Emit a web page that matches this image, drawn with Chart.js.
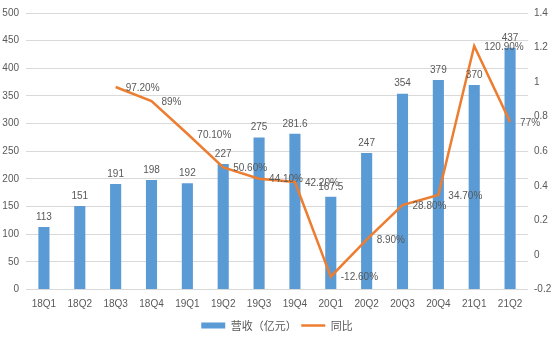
<!DOCTYPE html>
<html>
<head>
<meta charset="utf-8">
<script src="https://cdn.jsdelivr.net/npm/chart.js@4/dist/chart.umd.min.js"></script>
<style>
  html, body { margin: 0; padding: 0; background: #fff; }
  #wrap { width: 554px; height: 341px; }
</style>
</head>
<body>
<div id="wrap"><canvas id="c" width="554" height="341"></canvas></div>
<script>
// quarters, revenue (亿元) and year-on-year growth
const quarters = ["18Q1", "18Q2", "18Q3", "18Q4", "19Q1", "19Q2", "19Q3", "19Q4",
                  "20Q1", "20Q2", "20Q3", "20Q4", "21Q1", "21Q2"];
const revenue = [113, 151, 191, 198, 192, 227, 275, 281.6, 167.5, 247, 354, 379, 370, 437];
const growth = [null, null, 0.972, 0.89, 0.701, 0.506, 0.441, 0.422,
                -0.126, 0.089, 0.288, 0.347, 1.209, 0.77];

const grey = "#595959";
const tickFont = { family: "Liberation Sans", size: 10 };

function pct(v) {
  const p = Math.round(v * 10000) / 100;
  return (Number.isInteger(p) ? p.toString() : p.toFixed(2)) + "%";
}

// draws the numbers next to bars and line points
const valueLabels = {
  id: "valueLabels",
  afterDatasetsDraw(chart) {
    const ctx = chart.ctx;
    ctx.save();
    ctx.font = '10px "Liberation Sans"';
    ctx.fillStyle = grey;
    chart.getDatasetMeta(0).data.forEach((bar, i) => {
      ctx.textAlign = "center";
      ctx.textBaseline = "bottom";
      ctx.fillText(revenue[i], bar.x, bar.y - 5);
    });
    chart.getDatasetMeta(1).data.forEach((pt, i) => {
      if (growth[i] == null) return;
      ctx.textAlign = "left";
      ctx.textBaseline = "middle";
      ctx.fillText(pct(growth[i]), pt.x + 10, pt.y + 1);
    });
    ctx.restore();
  }
};

new Chart(document.getElementById("c"), {
  data: {
    labels: quarters,
    datasets: [
      {
        type: "bar",
        label: "营收（亿元）",
        data: revenue,
        backgroundColor: "#5B9BD5",
        yAxisID: "y",
        barPercentage: 0.31,
        categoryPercentage: 1,
        pointStyle: "rect",
        order: 2
      },
      {
        type: "line",
        label: "同比",
        data: growth,
        borderColor: "#ED7D31",
        backgroundColor: "#ED7D31",
        borderWidth: 2.5,
        pointRadius: 0,
        tension: 0,
        yAxisID: "y1",
        pointStyle: "line",
        order: 1
      }
    ]
  },
  options: {
    responsive: false,
    devicePixelRatio: 1,
    animation: false,
    layout: { padding: { top: 4, left: 0, right: 0, bottom: 0 } },
    plugins: {
      legend: {
        position: "bottom",
        labels: {
          usePointStyle: true,
          pointStyleWidth: 24,
          boxHeight: 6,
          color: grey,
          font: { family: "Noto Sans CJK SC", size: 11 },
          padding: 4.5,
          sort: (a, b) => a.datasetIndex - b.datasetIndex
        }
      },
      tooltip: { enabled: false }
    },
    scales: {
      x: {
        grid: { display: false, drawTicks: false },
        border: { display: false },
        ticks: { color: grey, font: tickFont, padding: 9, maxRotation: 0 },
        afterFit(s) { s.height = 26; }
      },
      y: {
        position: "left",
        min: 0,
        max: 500,
        ticks: { stepSize: 50, color: grey, font: tickFont, padding: 7 },
        grid: { color: "#d9d9d9", drawTicks: false },
        border: { display: false },
        afterFit(s) { s.width = 26; }
      },
      y1: {
        position: "right",
        min: -0.2,
        max: 1.4,
        ticks: {
          stepSize: 0.2, color: grey, font: tickFont, padding: 6,
          callback: v => parseFloat(v.toFixed(1))
        },
        grid: { display: false, drawTicks: false },
        border: { display: false },
        afterFit(s) { s.width = 26; }
      }
    }
  },
  plugins: [valueLabels]
});
</script>
</body>
</html>
